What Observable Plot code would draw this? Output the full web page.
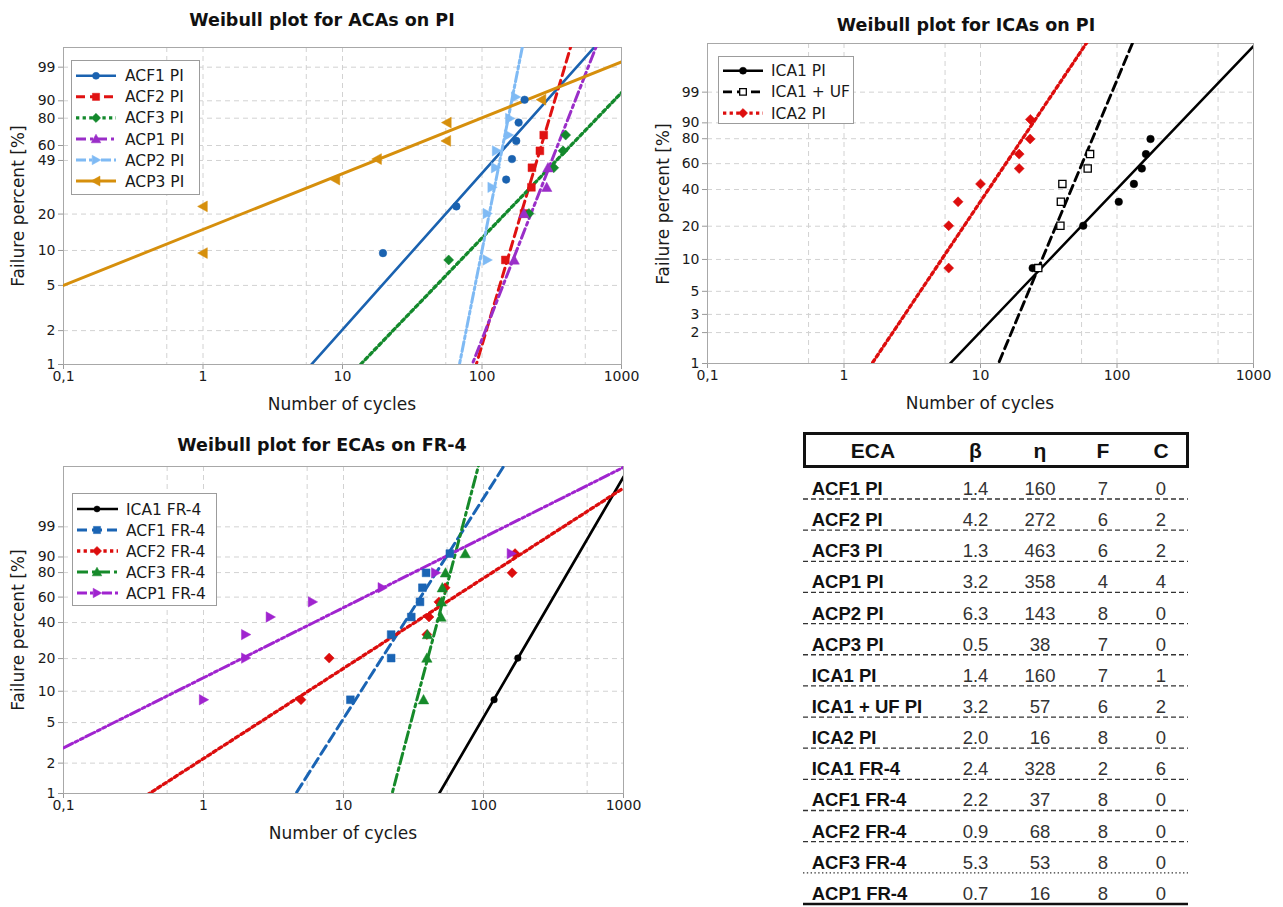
<!DOCTYPE html>
<html>
<head>
<meta charset="utf-8">
<script src="https://cdn.jsdelivr.net/npm/d3@7"></script>
<script src="https://cdn.jsdelivr.net/npm/@observablehq/plot@0.6"></script>
<style>
  body { margin: 0; background: #fff; }
  #page { position: relative; width: 1283px; height: 907px; overflow: hidden; background: #fff;
          font-family: "DejaVu Sans", sans-serif; color: #111; }
  .abs { position: absolute; }
  .title { font-weight: bold; font-size: 17.5px; white-space: nowrap; transform: translate(-50%, -50%); }
  .axlab { font-size: 17px; white-space: nowrap; color: #1a1a1a; transform: translate(-50%, -50%); }
  .axlab.rot { transform: translate(-50%, -50%) rotate(-90deg); }
</style>
</head>
<body>
<div id="page"></div>
<script>
// ---------- axes ----------
const xDomain = [0.1, 1000];
const xTicks = [0.1, 1, 10, 100, 1000];
const xTickLabels = ["0,1", "1", "10", "100", "1000"];
const xGridLines = [0.55, 1, 5.5, 10, 55, 100, 550];
const yTicksACA = [1, 2, 5, 10, 20, 49, 60, 80, 90, 99];
const yTicksICA = [1, 2, 3, 5, 10, 20, 40, 60, 80, 90, 99];
const yTicksFR4 = [1, 2, 5, 10, 20, 40, 60, 80, 90, 99];

// ---------- Weibull parameter table ----------
const ecaNames = ["ACF1 PI", "ACF2 PI", "ACF3 PI", "ACP1 PI", "ACP2 PI", "ACP3 PI", "ICA1 PI",
                  "ICA1 + UF PI", "ICA2 PI", "ICA1 FR-4", "ACF1 FR-4", "ACF2 FR-4", "ACF3 FR-4", "ACP1 FR-4"];
const betaValues = [1.4, 4.2, 1.3, 3.2, 6.3, 0.5, 1.4, 3.2, 2.0, 2.4, 2.2, 0.9, 5.3, 0.7];
const etaValues = [160, 272, 463, 358, 143, 38, 160, 57, 16, 328, 37, 68, 53, 16];
const failedCounts = [7, 6, 6, 4, 8, 7, 7, 6, 8, 2, 8, 8, 8, 8];
const censoredCounts = [0, 2, 2, 4, 0, 0, 1, 2, 0, 6, 0, 0, 0, 0];

// ---------- failure data (cycles, median-rank failure %) ----------
const rank7 = [9.5, 23.0, 36.5, 50.0, 63.5, 77.0, 90.5];
const rank8 = [8.3, 20.2, 32.1, 44.0, 56.0, 67.9, 79.8, 91.7];

const acf1PI_cycles = [19.5, 65.5, 149, 164, 176, 183, 202];
const acf2PI_cycles = [147, 200, 226, 228, 260, 277];
const acf3PI_cycles = [57.7, 217, 327, 381, 398];
const acf3PI_pct = [8.3, 20.2, 44.0, 56.0, 67.9];
const acp1PI_cycles = [170, 200, 291, 297];
const acp2PI_cycles = [109, 109, 118, 125, 127, 155, 158, 174];
const acp3PI_cycles = [1, 1, 8.9, 17.7, 55.5, 56, 267];

const ica1PI_cycles = [24.1, 56.6, 103, 133, 152, 163, 176];
const ica1ufPI_cycles = [26.5, 38.5, 38.8, 39.8, 61, 63.5];
const ica2PI_cycles = [5.85, 5.85, 6.85, 10.0, 19.2, 19.2, 23.1, 23.2];

const ica1FR4_cycles = [119, 176];
const acf1FR4_cycles = [11.2, 21.9, 21.9, 30.5, 35.2, 36.6, 38.9, 57.5];
const acf2FR4_cycles = [4.97, 7.9, 39.4, 40.8, 48, 53.2, 160, 168];
const acf3FR4_cycles = [37.3, 39.4, 39.8, 49.7, 50.0, 50.8, 53.5, 74];
const acp1FR4_cycles = [1.0, 2.0, 2.0, 3.0, 6.0, 18.9, 45.5, 158];

// ---------- helpers ----------
// Weibull probability transform: ln(-ln(1 - F))
const wb = p => Math.log(-Math.log(1 - p / 100));
const pctLabel = v => String(Math.round(100 * (1 - Math.exp(-Math.exp(v)))));

// marker shapes (size = pi r^2, r = half extent)
const rOf = size => Math.sqrt(size / Math.PI);
const shapes = {
  circle: { draw(c, size) { const r = rOf(size); c.moveTo(r, 0); c.arc(0, 0, r, 0, 2 * Math.PI); c.closePath(); } },
  square: { draw(c, size) { const r = rOf(size); c.moveTo(-r, -r); c.lineTo(r, -r); c.lineTo(r, r); c.lineTo(-r, r); c.closePath(); } },
  diamond: { draw(c, size) { const r = rOf(size); c.moveTo(0, -r); c.lineTo(r, 0); c.lineTo(0, r); c.lineTo(-r, 0); c.closePath(); } },
  triUp: { draw(c, size) { const r = rOf(size); c.moveTo(0, -r); c.lineTo(r, 0.8 * r); c.lineTo(-r, 0.8 * r); c.closePath(); } },
  triRight: { draw(c, size) { const r = rOf(size); c.moveTo(r, 0); c.lineTo(-0.8 * r, r); c.lineTo(-0.8 * r, -r); c.closePath(); } },
  triLeft: { draw(c, size) { const r = rOf(size); c.moveTo(-r, 0); c.lineTo(0.8 * r, -r); c.lineTo(0.8 * r, r); c.closePath(); } }
};

const page = document.getElementById("page");

function addText(cls, text, x, y) {
  const d = document.createElement("div");
  d.className = "abs " + cls;
  d.style.left = x + "px";
  d.style.top = y + "px";
  d.textContent = text;
  page.appendChild(d);
}

// ---------- panel definitions ----------
const panels = [
  {
    title: "Weibull plot for ACAs on PI", titleXY: [322, 20], xlabXY: [342, 404], ylabXY: [18, 206],
    left: 0, top: 0, width: 640, height: 390, mL: 63, mR: 19, mT: 47, mB: 26,
    topPct: 99.9, yTicks: yTicksACA,
    legend: { x: 71, y: 60, w: 129, h: 135, row0: 15.8, step: 21.05, s0: 5, s1: 45, mk: 25, tx: 54 },
    series: [
      { label: "ACF1 PI", key: "ACF1 PI", cycles: acf1PI_cycles, pct: rank7, color: "#1a62b0", lw: 2.6, shape: shapes.circle, r: 3.8 },
      { label: "ACF2 PI", key: "ACF2 PI", cycles: acf2PI_cycles, pct: rank8.slice(0, 6), color: "#e01212", lw: 3, dash: "9,5", shape: shapes.square, r: 3.9 },
      { label: "ACF3 PI", key: "ACF3 PI", cycles: acf3PI_cycles, pct: acf3PI_pct, color: "#13892c", lw: 3.3, dash: "3.3,3.3", shape: shapes.diamond, r: 5 },
      { label: "ACP1 PI", key: "ACP1 PI", cycles: acp1PI_cycles, pct: rank8.slice(0, 4), color: "#9a2ec8", lw: 3, dash: "10,4,3,4", shape: shapes.triUp, r: 5.2 },
      { label: "ACP2 PI", key: "ACP2 PI", cycles: acp2PI_cycles, pct: rank8, color: "#7fbaf4", lw: 3, dash: "10,3,3,3,3,3", shape: shapes.triRight, r: 5.2 },
      { label: "ACP3 PI", key: "ACP3 PI", cycles: acp3PI_cycles, pct: rank7, color: "#d68f0c", lw: 2.9, shape: shapes.triLeft, r: 5.4 }
    ]
  },
  {
    title: "Weibull plot for ICAs on PI", titleXY: [966, 25], xlabXY: [980, 403], ylabXY: [663, 204],
    left: 640, top: 0, width: 643, height: 390, mL: 67, mR: 30, mT: 43, mB: 27,
    topPct: 99.9999, yTicks: yTicksICA,
    legend: { x: 718, y: 56, w: 136, h: 68, row0: 14.7, step: 21.2, s0: 5, s1: 45, mk: 25, tx: 53 },
    series: [
      { label: "ICA1 PI", key: "ICA1 PI", cycles: ica1PI_cycles, pct: rank8.slice(0, 7), color: "#000", lw: 2.5, shape: shapes.circle, r: 3.8 },
      { label: "ICA1 + UF", key: "ICA1 + UF PI", cycles: ica1ufPI_cycles, pct: rank8.slice(0, 6), color: "#000", lw: 2.9, dash: "9,5", shape: shapes.square, r: 3.6, fill: "#fff", sw: 1.3 },
      { label: "ICA2 PI", key: "ICA2 PI", cycles: ica2PI_cycles, pct: rank8, color: "#dd0d0d", lw: 3.3, dash: "3.3,3.3", shape: shapes.diamond, r: 5 }
    ]
  },
  {
    title: "Weibull plot for ECAs on FR-4", titleXY: [322, 445], xlabXY: [343, 833], ylabXY: [18, 630],
    left: 0, top: 420, width: 640, height: 400, mL: 63, mR: 17, mT: 46, mB: 27,
    topPct: 99.999999, yTicks: yTicksFR4,
    legend: { x: 72, y: 493, w: 145, h: 113, row0: 16, step: 21, s0: 5, s1: 46, mk: 25, tx: 54 },
    series: [
      { label: "ICA1 FR-4", key: "ICA1 FR-4", cycles: ica1FR4_cycles, pct: rank8.slice(0, 2), color: "#000", lw: 2.7, shape: shapes.circle, r: 3.3 },
      { label: "ACF1 FR-4", key: "ACF1 FR-4", cycles: acf1FR4_cycles, pct: rank8, color: "#1a64b4", lw: 3, dash: "10,5", shape: shapes.square, r: 3.9 },
      { label: "ACF2 FR-4", key: "ACF2 FR-4", cycles: acf2FR4_cycles, pct: rank8, color: "#dc0d0d", lw: 3.3, dash: "3.3,3.3", shape: shapes.diamond, r: 5 },
      { label: "ACF3 FR-4", key: "ACF3 FR-4", cycles: acf3FR4_cycles, pct: rank8, color: "#168a2a", lw: 3, dash: "11,4,3,4", shape: shapes.triUp, r: 5.2 },
      { label: "ACP1 FR-4", key: "ACP1 FR-4", cycles: acp1FR4_cycles, pct: rank8, color: "#a024cf", lw: 3, dash: "10,3,3,3,3,3", shape: shapes.triRight, r: 5.2 }
    ]
  }
];

// ---------- draw Weibull panels ----------
for (const cfg of panels) {
  const yTickPos = cfg.yTicks.map(wb);
  const grid = { stroke: "#d2d2d2", strokeOpacity: 1, strokeDasharray: "5,4" };
  const marks = [
    Plot.gridX(xGridLines, grid),
    Plot.gridY(yTickPos.slice(1), grid),
    Plot.axisX(xTicks, {
      tickFormat: d => xTickLabels[xTicks.findIndex(v => Math.abs(v - d) < 1e-9)],
      tickSize: 5, tickPadding: 2, stroke: "#9a9a9a", fill: "#1a1a1a", fontSize: 14, label: null
    }),
    Plot.axisY(yTickPos, {
      tickFormat: pctLabel, tickSize: 5, tickPadding: 3, stroke: "#9a9a9a", fill: "#1a1a1a", fontSize: 14, label: null
    }),
    Plot.frame({ stroke: "#a8a8a8" })
  ];
  // fitted Weibull lines from the table's beta / eta
  for (const s of cfg.series) {
    const k = ecaNames.indexOf(s.key);
    const beta = betaValues[k], eta = etaValues[k];
    marks.push(Plot.line(xDomain, {
      x: d => d, y: d => beta * Math.log(d / eta),
      stroke: s.color, strokeWidth: s.lw, strokeDasharray: s.dash, clip: true
    }));
  }
  // observed failures
  for (const s of cfg.series) {
    marks.push(Plot.dot(s.cycles, {
      x: d => d, y: s.pct.map(wb), symbol: s.shape, r: s.r,
      fill: s.fill || s.color, stroke: s.color, strokeWidth: s.sw || 0.5
    }));
  }
  const svg = Plot.plot({
    width: cfg.width, height: cfg.height,
    marginLeft: cfg.mL, marginRight: cfg.mR, marginTop: cfg.mT, marginBottom: cfg.mB,
    x: { type: "log", domain: xDomain },
    y: { type: "linear", domain: [wb(cfg.yTicks[0]), wb(cfg.topPct)] },
    style: { fontFamily: "DejaVu Sans", fontSize: "14px", color: "#1a1a1a", background: "none", overflow: "visible" },
    marks
  });
  const holder = document.createElement("div");
  holder.className = "abs";
  holder.style.left = cfg.left + "px";
  holder.style.top = cfg.top + "px";
  holder.appendChild(svg);
  page.appendChild(holder);

  addText("title", cfg.title, ...cfg.titleXY);
  addText("axlab", "Number of cycles", ...cfg.xlabXY);
  addText("axlab rot", "Failure percent [%]", ...cfg.ylabXY);

  // legend box
  const L = cfg.legend;
  const lg = d3.select(page).append("svg").attr("class", "abs")
    .style("left", L.x + "px").style("top", L.y + "px")
    .attr("width", L.w).attr("height", L.h);
  lg.append("rect").attr("x", 0.5).attr("y", 0.5).attr("width", L.w - 1).attr("height", L.h - 1)
    .attr("fill", "#fff").attr("stroke", "#9c9c9c");
  cfg.series.forEach((s, i) => {
    const cy = L.row0 + i * L.step;
    lg.append("line").attr("x1", L.s0).attr("x2", L.s1).attr("y1", cy).attr("y2", cy)
      .attr("stroke", s.color).attr("stroke-width", s.lw).attr("stroke-dasharray", s.dash || null);
    const p = d3.path();
    s.shape.draw(p, Math.PI * s.r * s.r * 0.85);
    lg.append("path").attr("d", p.toString()).attr("transform", `translate(${L.mk},${cy})`)
      .attr("fill", s.fill || s.color).attr("stroke", s.color).attr("stroke-width", s.sw || 0.5);
    lg.append("text").attr("x", L.tx).attr("y", cy).attr("dy", "0.36em")
      .attr("font-family", "DejaVu Sans").attr("font-size", 15.5).attr("fill", "#1a1a1a").text(s.label);
  });
}

// ---------- parameter table ----------
const T = d3.select(page).append("svg").attr("class", "abs")
  .style("left", "780px").style("top", "420px").attr("width", 503).attr("height", 487)
  .attr("font-family", "Liberation Sans, Arial, sans-serif");
const colX = { beta: 195.5, eta: 260, F: 323, C: 381 };
T.append("rect").attr("x", 24.5).attr("y", 13.5).attr("width", 383).attr("height", 33)
  .attr("fill", "none").attr("stroke", "#111").attr("stroke-width", 3);
[["ECA", 93], ["β", colX.beta], ["η", colX.eta], ["F", colX.F], ["C", colX.C]].forEach(([t, x]) => {
  T.append("text").attr("x", x).attr("y", 30).attr("dy", "0.36em").attr("text-anchor", "middle")
    .attr("font-weight", "bold").attr("font-size", 21).attr("fill", "#111").text(t);
});
const rowStep = 31.15;
ecaNames.forEach((name, i) => {
  const cy = 68.3 + i * rowStep;
  T.append("text").attr("x", 31.7).attr("y", cy).attr("dy", "0.36em")
    .attr("font-weight", "bold").attr("font-size", 18.5).attr("fill", "#111").text(name);
  [[betaValues[i].toFixed(1), colX.beta], [String(etaValues[i]), colX.eta],
   [String(failedCounts[i]), colX.F], [String(censoredCounts[i]), colX.C]].forEach(([t, x]) => {
    T.append("text").attr("x", x).attr("y", cy).attr("dy", "0.36em").attr("text-anchor", "middle")
      .attr("font-size", 18.5).attr("fill", "#333").text(t);
  });
  const ly = 79 + i * rowStep;
  const last = i === ecaNames.length - 1;
  T.append("line").attr("x1", 23).attr("x2", 408).attr("y1", ly).attr("y2", ly)
    .attr("stroke", last ? "#111" : "#333")
    .attr("stroke-width", last ? 2.5 : 1.3)
    .attr("stroke-dasharray", last ? null : (i === ecaNames.length - 2 ? "1.4,2.4" : "5,3"));
});
</script>
</body>
</html>
